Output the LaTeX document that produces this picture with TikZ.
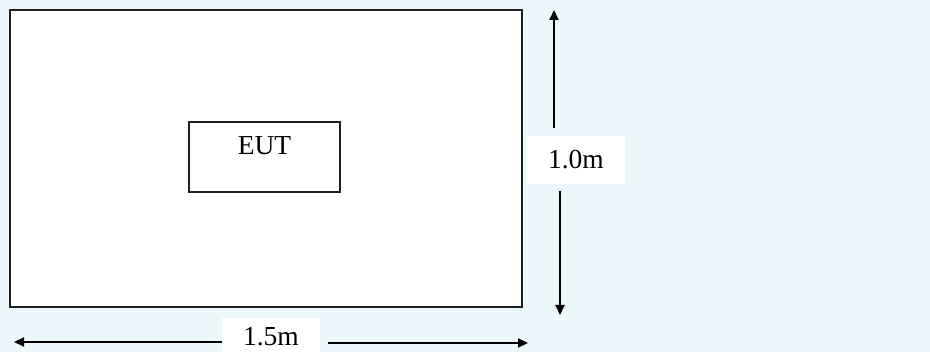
\documentclass[tikz,border=0pt]{standalone}
\usepackage{fontspec}
\setmainfont{Liberation Serif}
\usetikzlibrary{arrows.meta}
\definecolor{bgblue}{RGB}{236,247,252}
\definecolor{edgegray}{RGB}{30,30,30}
\tikzset{
  box/.style={draw=edgegray, line width=1.2pt, fill=white, inner sep=0pt},
  dimline/.style={draw=black, line width=2pt, -{Triangle[length=10pt,width=9pt]}},
  dimfont/.style={font=\fontsize{27.5}{30}\selectfont},
  dimlabel/.style={fill=white, inner sep=0pt, minimum width=98pt, minimum height=48pt, dimfont},
}
\begin{document}
\begin{tikzpicture}[x=1pt,y=-1pt]
  \useasboundingbox (0,0) rectangle (930,352);
  \fill[bgblue] (0,0) rectangle (930,352);
  % table area
  \node[box, minimum width=512pt, minimum height=297pt] (table) at (266,158.5) {};
  % EUT
  \node[box, minimum width=151pt, minimum height=70pt, text height=19pt, text depth=23pt,
        dimfont] (eut) at (264.5,157) {EUT};
  % vertical dimension
  \node[dimlabel] (vlab) at (576,160) {1.0m};
  \coordinate (vtop) at (554,10);
  \coordinate (vup) at (554,128);
  \coordinate (vbot) at (560,315);
  \coordinate (vdn) at (560,191);
  \draw[dimline] (vup) -- (vtop);
  \draw[dimline] (vdn) -- (vbot);
  % horizontal dimension
  \node[fill=white, inner sep=0pt, minimum width=98pt, minimum height=34pt] (hbox) at (271,335) {};
  \node[dimfont, inner sep=0pt, anchor=base] (hlab) at (271,346) {1.5m};
  \coordinate (hleft) at (14,342);
  \coordinate (hright) at (528,343);
  \draw[dimline] (hbox.west |- hleft) -- (hleft);
  \draw[dimline] (328,343) -- (hright);
\end{tikzpicture}
\end{document}
